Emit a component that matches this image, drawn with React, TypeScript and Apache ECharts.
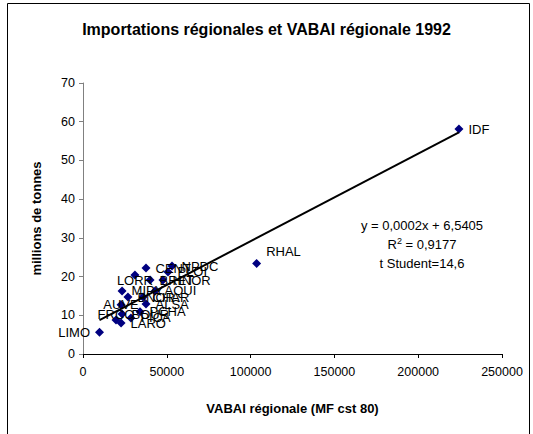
import React, { useEffect, useRef } from "react";
import * as echarts from "echarts";

const regions = ["IDF", "RHAL", "NPDC", "CENT", "PLOI", "HNOR", "BRET", "LORR", "MIPY", "AQUI", "BNOR", "CHAR", "ALSA", "AUVE", "PCHA", "BOUR", "PICA", "FRCO", "LARO", "LIMO"];
const vabai = [224300, 103600, 53100, 37600, 50700, 47700, 40000, 31000, 23300, 43000, 26800, 35800, 37600, 22700, 34000, 23300, 28600, 19700, 22700, 9850];
const imports = [58.1, 23.4, 22.7, 22.2, 21.2, 19.1, 19.1, 20.4, 16.3, 16.3, 14.7, 14.7, 12.9, 12.7, 10.9, 10.3, 9.3, 8.8, 8.0, 5.6];
const trendSlope = 0.000226;
const trendIntercept = 6.5405;
const equationLines = ["y = 0,0002x + 6,5405", "R{sup|2} = 0,9177", "t Student=14,6"];
const xTicks = { min: 0, max: 250000, interval: 50000 };
const yTicks = { min: 0, max: 70, interval: 10 };

const labelPlacement: Record<string, any> = {
  LIMO: { position: "left" },
  FRCO: { position: "inside", offset: [0, -5] },
  LORR: { position: "inside", offset: [0, 5] },
  AUVE: { position: "inside" },
  RHAL: { position: "right", offset: [0, -12] },
};

export default function App() {
  const ref = useRef<HTMLDivElement>(null);
  useEffect(() => {
    if (!ref.current) return;
    const chart = echarts.init(ref.current, null, { renderer: "svg" });
    const font = "'Liberation Sans', Arial, sans-serif";
    const xMin = Math.min(...vabai);
    const xMax = Math.max(...vabai);
    const points = regions.map((r, i) => {
      const item: any = { name: r, value: [vabai[i], imports[i]] };
      if (labelPlacement[r]) item.label = labelPlacement[r];
      return item;
    });
    chart.setOption({
      animation: false,
      backgroundColor: "#ffffff",
      textStyle: { fontFamily: font },
      title: {
        text: "Importations régionales et VABAI régionale 1992",
        left: "center",
        top: 16,
        textStyle: { fontFamily: font, fontSize: 16, fontWeight: "bold", color: "#000" },
      },
      grid: { left: 83, right: 31, top: 83, bottom: 80 },
      xAxis: {
        type: "value",
        min: xTicks.min,
        max: xTicks.max,
        interval: xTicks.interval,
        name: "VABAI régionale (MF cst 80)",
        nameLocation: "middle",
        nameGap: 48,
        nameTextStyle: { fontFamily: font, fontSize: 13, fontWeight: "bold", color: "#000" },
        splitLine: { show: false },
        axisLine: { lineStyle: { color: "#000", width: 1 } },
        axisTick: { show: true, inside: false, length: 4, lineStyle: { color: "#000" } },
        axisLabel: { fontFamily: font, fontSize: 12.5, color: "#000", margin: 11, formatter: (v: number) => String(v) },
      },
      yAxis: {
        type: "value",
        min: yTicks.min,
        max: yTicks.max,
        interval: yTicks.interval,
        name: "millions de tonnes",
        nameLocation: "middle",
        nameGap: 40,
        nameTextStyle: { fontFamily: font, fontSize: 13, fontWeight: "bold", color: "#000" },
        splitLine: { show: false },
        axisLine: { show: true, lineStyle: { color: "#808080", width: 1 } },
        axisTick: { show: true, inside: false, length: 4, lineStyle: { color: "#808080" } },
        axisLabel: { fontFamily: font, fontSize: 12.5, color: "#000", margin: 8 },
      },
      series: [
        {
          type: "line",
          data: [
            [xMin, trendIntercept + trendSlope * xMin],
            [xMax, trendIntercept + trendSlope * xMax],
          ],
          symbol: "none",
          lineStyle: { color: "#000", width: 2 },
          z: 3,
        },
        {
          type: "scatter",
          data: points,
          symbol: "diamond",
          symbolSize: 9,
          itemStyle: { color: "#000080", opacity: 1 },
          label: {
            show: true,
            position: "right",
            distance: 5,
            formatter: "{b}",
            fontFamily: font,
            fontSize: 13,
            color: "#000",
          },
          z: 2,
        },
      ],
      graphic: [
        {
          type: "rect",
          shape: { x: 7.5, y: 3.5, width: 522, height: 440 },
          style: { fill: "none", stroke: "#000", lineWidth: 1 },
          silent: true,
        },
        ...equationLines.map((t, i) => ({
          type: "text",
          x: 422,
          y: 225 + i * 19,
          style: {
            text: t,
            fontFamily: font,
            fontSize: 13,
            fill: "#000",
            align: "center",
            verticalAlign: "middle",
            rich: { sup: { fontSize: 9, verticalAlign: "top", padding: [0, 0, 7, 0] } },
          },
        })),
      ],
    });
    return () => chart.dispose();
  }, []);
  return (
    <div
      ref={ref}
      style={{ position: "fixed", left: 0, top: 0, width: 533, height: 434, background: "#fff" }}
    />
  );
}
